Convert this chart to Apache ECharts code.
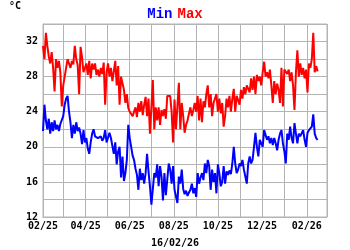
<!DOCTYPE html>
<html><head><meta charset="utf-8">
<script src="https://cdn.jsdelivr.net/npm/echarts@6/dist/echarts.min.js"></script>
<style>html,body{margin:0;padding:0;background:#fff}#c{width:350px;height:250px}</style>
</head><body><div id="c"></div>
<script>
// Axis range (daily categories) and sampling step of the readings
const axisStart = '2025-02-01';
const axisEnd = '2026-03-01';
const dataStart = '2025-02-01';
const stepDays = 2;
const dateCaption = '16/02/26';
const unitLabel = '°C';
const seriesNames = ['Min', 'Max'];

const maxValues = [
31.5,30.0,33.0,31.5,30.3,29.5,30.8,29.0,26.3,30.0,29.0,29.8,28.5,24.6,27.0,28.0,29.0,30.0,29.5,29.0,29.8,29.4,31.5,30.0,29.3,26.0,31.4,30.2,28.5,28.6,29.5,28.2,29.8,27.8,29.5,28.8,29.5,28.2,
28.8,28.0,29.0,28.3,29.6,24.8,28.5,29.5,28.0,29.0,27.5,28.6,29.8,27.0,29.2,24.8,28.0,28.2,26.5,25.0,26.0,24.4,24.0,23.8,23.5,23.6,24.5,23.4,25.0,24.0,25.2,23.6,24.8,25.7,23.5,25.5,21.5,24.5,27.6,22.0,24.5,
23.0,24.5,22.5,24.2,23.5,24.3,23.2,25.8,25.8,25.8,24.0,20.5,25.4,22.0,21.8,27.3,22.0,25.0,23.5,21.6,22.5,23.0,23.8,24.5,23.5,24.2,25.0,24.0,25.8,23.0,25.5,22.8,25.2,24.5,26.0,27.0,24.5,26.0,23.5,25.0,24.8,
26.0,24.0,25.5,23.8,25.0,22.3,23.5,25.5,24.5,25.8,24.0,25.5,26.6,24.0,25.8,26.0,24.8,26.5,25.5,26.8,26.0,27.0,27.2,26.2,27.8,26.5,28.0,26.0,28.2,27.5,28.0,27.0,28.5,29.7,28.0,28.5,27.8,28.8,27.0,
25.0,27.5,26.0,27.2,26.5,25.0,29.0,24.6,28.8,29.0,28.3,28.8,27.5,28.5,27.0,24.2,28.5,31.0,28.0,29.5,28.2,29.0,27.8,28.8,26.2,29.5,29.0,30.0,33.0,28.5,29.2,28.6
];

const minValues = [
21.8,24.8,23.0,22.0,23.2,21.5,22.8,21.8,23.0,22.0,22.5,21.8,22.6,22.8,23.5,24.8,25.5,25.8,24.0,22.8,21.0,22.5,21.5,22.8,21.8,22.2,21.5,20.3,21.9,20.5,21.0,19.8,19.2,20.5,21.5,22.0,21.2,21.0,
21.0,20.8,21.2,20.7,21.0,21.9,20.5,20.3,21.6,21.0,20.8,19.2,20.5,18.0,19.5,20.0,16.5,18.9,16.1,17.0,18.5,22.5,21.0,20.0,19.0,18.5,17.5,16.8,15.1,17.5,16.2,17.0,15.8,17.0,19.2,17.2,15.5,13.4,13.6,17.0,16.5,
18.0,15.5,17.8,16.6,13.9,17.0,14.5,14.3,18.1,17.4,15.8,17.8,15.1,15.0,13.6,16.6,15.8,17.4,15.2,14.6,15.0,14.4,14.8,15.1,15.8,14.7,15.3,14.3,17.0,15.8,16.5,17.0,16.2,18.1,17.0,18.5,17.8,15.1,17.4,16.0,17.0,
14.7,18.0,17.0,15.5,16.0,17.8,15.8,17.2,16.8,17.3,16.9,18.1,20.0,18.1,17.0,17.4,18.1,17.8,18.5,17.4,17.4,15.8,18.1,18.9,18.1,18.5,20.0,21.6,20.0,18.9,20.8,20.4,20.0,21.9,21.9,20.8,21.2,20.4,21.0,
20.2,21.0,20.4,19.6,20.8,21.5,21.9,20.4,19.5,18.1,21.5,20.8,22.3,21.0,20.4,22.7,21.5,20.4,21.5,21.2,21.0,21.9,20.8,20.0,21.6,21.9,21.9,22.3,23.7,21.5,21.0,20.8
];

const yMin = 12, yMax = 34, yStep = 2, yLabelEvery = 4;

function fmt(d) {
  return d.getUTCFullYear() + '-' + String(d.getUTCMonth() + 1).padStart(2, '0') + '-' + String(d.getUTCDate()).padStart(2, '0');
}
function addDays(s, n) {
  const d = new Date(s + 'T00:00:00Z');
  d.setUTCDate(d.getUTCDate() + n);
  return fmt(d);
}
const categories = [];
for (let i = 0; ; i++) {
  const s = addDays(axisStart, i);
  categories.push(s);
  if (s === axisEnd) break;
}
const pairs = vals => vals.map((v, i) => [addDays(dataStart, i * stepDays), v]);

const gridColor = '#b4b4b4';
const font = '"DejaVu Sans Mono", monospace';

const chart = echarts.init(document.getElementById('c'), null, { renderer: 'canvas' });
chart.setOption({
  animation: false,
  backgroundColor: '#fff',
  title: {
    text: '{a|' + seriesNames[0] + '} {b|' + seriesNames[1] + '}',
    left: 'center', top: 0,
    textStyle: {
      rich: {
        a: { color: '#0000ff', fontFamily: '"Liberation Mono", monospace', fontWeight: 'bold', fontSize: 14 },
        b: { color: '#ff0000', fontFamily: '"Liberation Mono", monospace', fontWeight: 'bold', fontSize: 14 }
      }
    }
  },
  graphic: [
    { type: 'text', left: 9, top: 1, style: { text: unitLabel, font: 'bold 10px ' + font, fill: '#000' } },
    { type: 'text', left: 'center', top: 238, style: { text: dateCaption, font: 'bold 10px ' + font, fill: '#000' } }
  ],
  grid: { left: 43, right: 23, top: 24, bottom: 33, show: true, borderColor: gridColor, borderWidth: 1, containLabel: false },
  xAxis: {
    type: 'category',
    data: categories,
    boundaryGap: false,
    axisLine: { lineStyle: { color: gridColor } },
    axisTick: { show: false },
    splitLine: { show: true, interval: (i, v) => v.slice(8) === '01', lineStyle: { color: gridColor, width: 1 } },
    axisLabel: {
      interval: (i, v) => v.slice(8) === '01' && parseInt(v.slice(5, 7), 10) % 2 === 0,
      formatter: v => v.slice(5, 7) + '/' + v.slice(2, 4),
      color: '#000', fontFamily: font, fontWeight: 'bold', fontSize: 10, margin: 4
    }
  },
  yAxis: {
    type: 'value', min: yMin, max: yMax, interval: yStep,
    axisLine: { show: true, lineStyle: { color: gridColor } },
    axisTick: { show: false },
    splitLine: { show: true, lineStyle: { color: gridColor, width: 1 } },
    axisLabel: {
      formatter: v => (v % yLabelEvery === 0 && v < yMax) ? String(v) : '',
      color: '#000', fontFamily: font, fontWeight: 'bold', fontSize: 10, margin: 5
    }
  },
  series: [
    { name: seriesNames[1], type: 'line', data: pairs(maxValues), showSymbol: false, lineStyle: { color: '#ff0000', width: 2 }, itemStyle: { color: '#ff0000' } },
    { name: seriesNames[0], type: 'line', data: pairs(minValues), showSymbol: false, lineStyle: { color: '#0000ff', width: 2 }, itemStyle: { color: '#0000ff' } }
  ]
});
</script>
</body></html>
